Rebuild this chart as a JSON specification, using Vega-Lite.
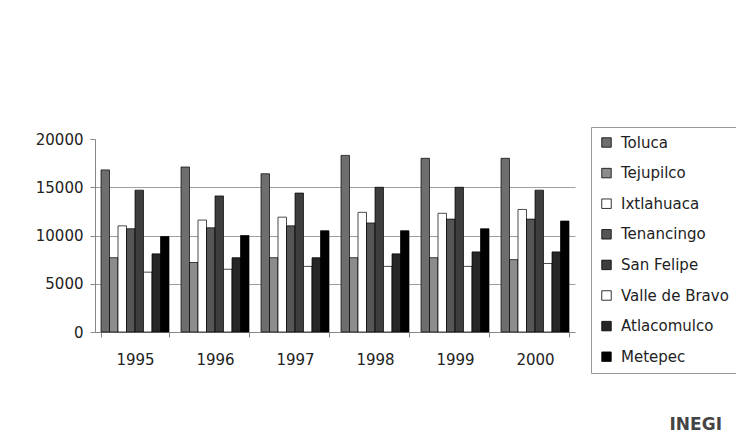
{
  "$schema": "https://vega.github.io/schema/vega-lite/v6.json",
  "width": 480,
  "height": 193,
  "autosize": {"type": "none"},
  "padding": {"left": 95, "top": 139, "right": 161, "bottom": 105},
  "background": "white",
  "title": {
    "text": "INEGI",
    "orient": "bottom",
    "anchor": "end",
    "frame": "group",
    "dx": 147,
    "offset": 43,
    "font": "DejaVu Sans",
    "fontSize": 17,
    "fontWeight": "bold",
    "color": "#444"
  },
  "config": {
    "view": {"stroke": null},
    "axis": {"labelFont": "DejaVu Sans", "labelFontSize": 15, "labelColor": "#222"}
  },
  "data": {
    "values": [
      {"year": "1995", "city": "Toluca", "value": 16800},
      {"year": "1995", "city": "Tejupilco", "value": 7700},
      {"year": "1995", "city": "Ixtlahuaca", "value": 11000},
      {"year": "1995", "city": "Tenancingo", "value": 10700},
      {"year": "1995", "city": "San Felipe", "value": 14700},
      {"year": "1995", "city": "Valle de Bravo", "value": 6200},
      {"year": "1995", "city": "Atlacomulco", "value": 8100},
      {"year": "1995", "city": "Metepec", "value": 9900},
      {"year": "1996", "city": "Toluca", "value": 17100},
      {"year": "1996", "city": "Tejupilco", "value": 7200},
      {"year": "1996", "city": "Ixtlahuaca", "value": 11600},
      {"year": "1996", "city": "Tenancingo", "value": 10800},
      {"year": "1996", "city": "San Felipe", "value": 14100},
      {"year": "1996", "city": "Valle de Bravo", "value": 6500},
      {"year": "1996", "city": "Atlacomulco", "value": 7700},
      {"year": "1996", "city": "Metepec", "value": 10000},
      {"year": "1997", "city": "Toluca", "value": 16400},
      {"year": "1997", "city": "Tejupilco", "value": 7700},
      {"year": "1997", "city": "Ixtlahuaca", "value": 11900},
      {"year": "1997", "city": "Tenancingo", "value": 11000},
      {"year": "1997", "city": "San Felipe", "value": 14400},
      {"year": "1997", "city": "Valle de Bravo", "value": 6800},
      {"year": "1997", "city": "Atlacomulco", "value": 7700},
      {"year": "1997", "city": "Metepec", "value": 10500},
      {"year": "1998", "city": "Toluca", "value": 18300},
      {"year": "1998", "city": "Tejupilco", "value": 7700},
      {"year": "1998", "city": "Ixtlahuaca", "value": 12400},
      {"year": "1998", "city": "Tenancingo", "value": 11300},
      {"year": "1998", "city": "San Felipe", "value": 15000},
      {"year": "1998", "city": "Valle de Bravo", "value": 6800},
      {"year": "1998", "city": "Atlacomulco", "value": 8100},
      {"year": "1998", "city": "Metepec", "value": 10500},
      {"year": "1999", "city": "Toluca", "value": 18000},
      {"year": "1999", "city": "Tejupilco", "value": 7700},
      {"year": "1999", "city": "Ixtlahuaca", "value": 12300},
      {"year": "1999", "city": "Tenancingo", "value": 11700},
      {"year": "1999", "city": "San Felipe", "value": 15000},
      {"year": "1999", "city": "Valle de Bravo", "value": 6800},
      {"year": "1999", "city": "Atlacomulco", "value": 8300},
      {"year": "1999", "city": "Metepec", "value": 10700},
      {"year": "2000", "city": "Toluca", "value": 18000},
      {"year": "2000", "city": "Tejupilco", "value": 7500},
      {"year": "2000", "city": "Ixtlahuaca", "value": 12700},
      {"year": "2000", "city": "Tenancingo", "value": 11700},
      {"year": "2000", "city": "San Felipe", "value": 14700},
      {"year": "2000", "city": "Valle de Bravo", "value": 7100},
      {"year": "2000", "city": "Atlacomulco", "value": 8300},
      {"year": "2000", "city": "Metepec", "value": 11500}
    ]
  },
  "mark": {"type": "bar", "stroke": "#000", "strokeWidth": 0.7},
  "encoding": {
    "x": {
      "field": "year",
      "type": "nominal",
      "scale": {"paddingInner": 0.15, "paddingOuter": 0.075},
      "axis": {
        "title": null,
        "labelAngle": 0,
        "domainColor": "#888",
        "tickColor": "#888",
        "tickSize": 5,
        "tickBand": "extent",
        "labelPadding": 15
      }
    },
    "xOffset": {
      "field": "city",
      "type": "nominal",
      "sort": ["Toluca", "Tejupilco", "Ixtlahuaca", "Tenancingo", "San Felipe", "Valle de Bravo", "Atlacomulco", "Metepec"],
      "scale": {"paddingInner": 0, "paddingOuter": 0}
    },
    "y": {
      "field": "value",
      "type": "quantitative",
      "scale": {"domain": [0, 20000], "nice": false},
      "axis": {
        "title": null,
        "values": [0, 5000, 10000, 15000, 20000],
        "format": "d",
        "grid": true,
        "gridColor": {"condition": {"test": "datum.value == 20000 || datum.value == 0", "value": "transparent"}, "value": "#a0a0a0"},
        "gridWidth": 1,
        "domainColor": "#888",
        "tickColor": "#888",
        "tickSize": 5,
        "labelPadding": 7
      }
    },
    "color": {
      "field": "city",
      "type": "nominal",
      "scale": {
        "domain": ["Toluca", "Tejupilco", "Ixtlahuaca", "Tenancingo", "San Felipe", "Valle de Bravo", "Atlacomulco", "Metepec"],
        "range": ["#6e6e6e", "#8c8c8c", "#ffffff", "#555555", "#3d3d3d", "#ffffff", "#262626", "#000000"]
      },
      "legend": {
        "title": null,
        "orient": "none",
        "legendX": 496,
        "legendY": -12,
        "symbolType": "square",
        "symbolSize": 90,
        "symbolStrokeColor": "#000",
        "symbolStrokeWidth": 0.8,
        "labelFont": "DejaVu Sans",
        "labelFontSize": 15,
        "labelColor": "#222",
        "labelOffset": 7,
        "rowPadding": 14.6,
        "padding": 8,
        "strokeColor": "#999",
        "fillColor": "white",
        "labelLimit": 200
      }
    }
  }
}
